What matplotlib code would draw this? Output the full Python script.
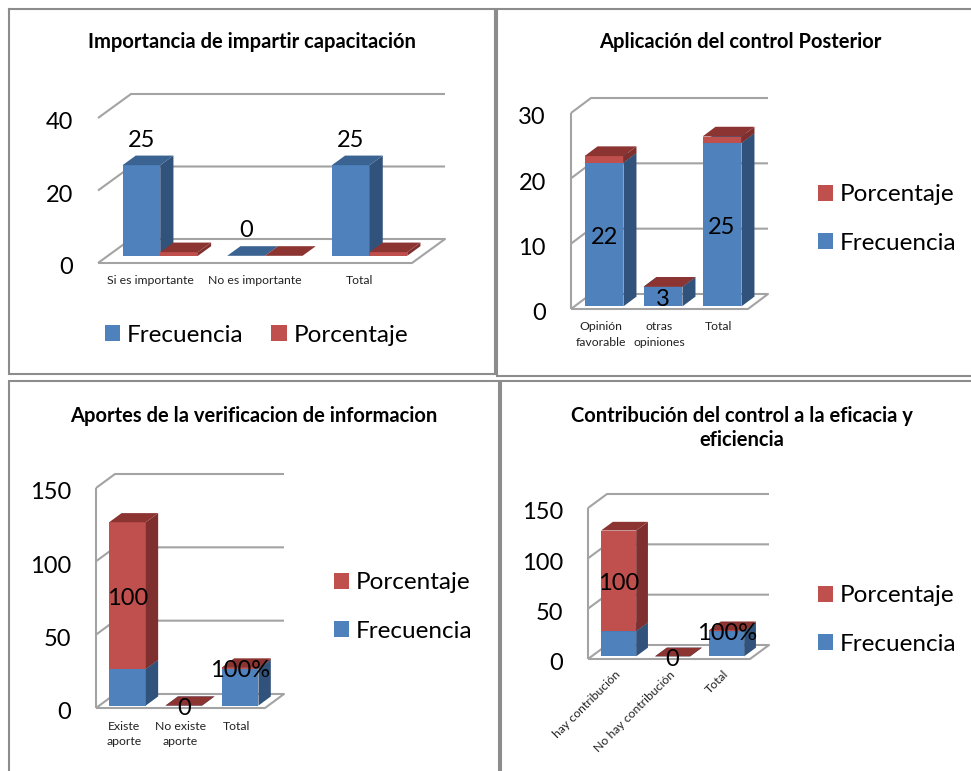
import matplotlib
matplotlib.use('Agg')
import matplotlib.pyplot as plt
from matplotlib.lines import Line2D
from matplotlib.patches import Patch
from matplotlib.transforms import ScaledTranslation

plt.rcParams['font.family'] = ['Lato', 'DejaVu Sans']

W, H = 971, 771

BLUE = ('#4F81BD', '#3A6391', '#31527A')  # front, top, side
RED = ('#C0504D', '#8C3432', '#7F302E')
GRID = '#A3A3A3'
FRAME = '#8C8C8C'

# Data
titles = ['Importancia de impartir capacitación',
          'Aplicación del control Posterior',
          'Aportes de la verificacion de informacion',
          'Contribución del control a la eficacia y\neficiencia']

cats_a = ['Si es importante', 'No es importante', 'Total']
frec_a = [25, 0, 25]
porc_a = [1, 0, 1]
labels_a = ['25', '0', '25']
yticks_a = [0, 20, 40]

cats_b = ['Opinión\nfavorable', 'otras\nopiniones', 'Total']
frec_b = [22, 3, 25]
porc_b = [1, 0, 1]
labels_b = ['22', '3', '25']
yticks_b = [0, 10, 20, 30]

cats_c = ['Existe\naporte', 'No existe\naporte', 'Total']
frec_c = [25, 0, 25]
porc_c = [100, 0, 1]
labels_c = ['100', '0', '100%']
yticks_c = [0, 50, 100, 150]

cats_d = ['hay contribución', 'No hay contribución', 'Total']
frec_d = [25, 0, 25]
porc_d = [100, 0, 1]
labels_d = ['100', '0', '100%']
yticks_d = [0, 50, 100, 150]


def make_axes(x0, x1, y_floor, y_top, ymax, depth_px):
    ax = fig.add_axes([x0 / W, 1 - y_floor / H, (x1 - x0) / W, (y_floor - y_top) / H])
    ax.set_xlim(0, 3)
    ax.set_ylim(0, ymax)
    ax.patch.set_alpha(0)
    for s in ax.spines.values():
        s.set_visible(False)
    # depth of the 3D box in data units
    ax.dx = depth_px[0] * 3 / (x1 - x0)
    ax.dy = depth_px[1] * ymax / (y_floor - y_top)
    return ax


def draw_walls(ax, yticks, left_line=True):
    dx, dy = ax.dx, ax.dy
    kw = dict(color=GRID, lw=1.5, clip_on=False, zorder=1, solid_capstyle='butt')
    for v in yticks[1:]:
        ax.plot([0, dx, 3 + dx], [v, v + dy, v + dy], **kw)
    ax.plot([0, 3, 3 + dx, dx, 0], [0, 0, dy, dy, 0], **kw)
    if left_line:
        ax.plot([0, 0], [0, yticks[-1]], **kw)
    ax.set_yticks(yticks)
    ax.tick_params(axis='y', length=0, pad=18, labelsize=17)
    # tick digits sit a little below the gridline
    shift = ScaledTranslation(0, -2 / 72, fig.dpi_scale_trans)
    for t in ax.get_yticklabels():
        t.set_transform(t.get_transform() + shift)


def draw_bar(ax, x, w, bottom, height, z, depth, colors):
    dx, dy = ax.dx, ax.dy
    left = x - w / 2 + z * dx
    right = left + w
    y0 = bottom + z * dy
    y1 = y0 + height
    ddx, ddy = depth * dx, depth * dy
    kw = dict(lw=0, clip_on=False, zorder=3)
    ax.bar(left, height, w, bottom=y0, align='edge', color=colors[0], **kw)
    ax.fill([right, right + ddx, right + ddx, right],
            [y0, y0 + ddy, y1 + ddy, y1], color=colors[2], **kw)
    ax.fill([left, right, right + ddx, left + ddx],
            [y1, y1, y1 + ddy, y1 + ddy], color=colors[1], **kw)


def set_cats(ax, cats, pad, size=8.8, rotation=0):
    ax.set_xticks([0.5, 1.5, 2.5])
    ax.set_xticklabels(cats, fontsize=size, linespacing=1.5, color='#222222')
    ax.tick_params(axis='x', length=0, pad=pad)
    if rotation:
        for t in ax.get_xticklabels():
            t.set_rotation(rotation)
            t.set_ha('right')
            t.set_rotation_mode('anchor')


def stacked(ax, frec, porc, labels, width, depth):
    z = (1 - depth) / 2
    for i in range(3):
        x = i + 0.5
        draw_bar(ax, x, width, 0, frec[i], z, depth, BLUE)
        draw_bar(ax, x, width, frec[i], porc[i], z, depth, RED)


def value_label(ax, x, y, text, up=-2):
    ax.annotate(text, (x, y), xytext=(0, up), textcoords='offset points', ha='center',
                va='center', fontsize=17, zorder=5, annotation_clip=False)


def legend(handles, x, y, ncol=1):
    fig.legend(handles=handles, loc='center left', bbox_to_anchor=(x / W, 1 - y / H),
               ncol=ncol, frameon=False, fontsize=17.5, handlelength=0.62, handleheight=0.62,
               handletextpad=0.28, labelspacing=1.12, columnspacing=1.15,
               borderpad=0, borderaxespad=0)


fig = plt.figure(figsize=(W / 100, H / 100), dpi=100)

# panel frames
for xs, ys in [([9, 9, 495, 495, 9], [9, 374, 374, 9, 9]),
               ([971, 497, 497, 971], [9, 9, 376, 376]),
               ([9, 9, 499, 499], [771, 381, 381, 771]),
               ([501, 501, 971], [771, 381, 381])]:
    fig.add_artist(Line2D([x / W for x in xs], [1 - y / H for y in ys],
                          color=FRAME, lw=1.5, solid_joinstyle='miter'))

for text, x, y in zip(titles, [252, 740, 254, 742], [42, 42, 416, 428]):
    fig.text(x / W, 1 - y / H, text, ha='center', va='center', fontsize=14.5,
             fontweight='bold', linespacing=1.3)

frec_patch = Patch(color=BLUE[0], lw=0, label='Frecuencia')
porc_patch = Patch(color=RED[0], lw=0, label='Porcentaje')

# Importancia de impartir capacitacion (clustered)
ax = make_axes(98, 412, 263, 118, 40, (33, 24))
draw_walls(ax, yticks_a, left_line=False)
bw, bd = 0.36, 0.4
bz = (1 - bd) / 2
for i in range(3):
    draw_bar(ax, i + 0.5 - bw / 2, bw, 0, frec_a[i], bz, bd, BLUE)
    draw_bar(ax, i + 0.5 + bw / 2, bw, 0, porc_a[i], bz, bd, RED)
    value_label(ax, i + 0.5 - bw / 2 + bz * ax.dx, frec_a[i] + bz * ax.dy, labels_a[i], up=18)
set_cats(ax, cats_a, 9)
legend([frec_patch, porc_patch], 105, 335, ncol=2)

# Aplicacion del control Posterior (stacked, label on Frecuencia)
ax = make_axes(571, 748, 309, 113, 30, (20, 15))
draw_walls(ax, yticks_b)
stacked(ax, frec_b, porc_b, labels_b, 0.66, 0.65)
for i in range(3):
    value_label(ax, i + 0.5 + 0.175 * ax.dx, frec_b[i] / 2 + 0.175 * ax.dy, labels_b[i])
set_cats(ax, cats_b, 9)
legend([porc_patch, frec_patch], 818, 219)

# Aportes de la verificacion de informacion (stacked, label on Porcentaje)
ax = make_axes(96, 265, 708, 488, 150, (19, 14))
draw_walls(ax, yticks_c)
stacked(ax, frec_c, porc_c, labels_c, 0.65, 0.65)
for i in range(3):
    value_label(ax, i + 0.5 + 0.175 * ax.dx, frec_c[i] + porc_c[i] / 2 + 0.175 * ax.dy, labels_c[i])
set_cats(ax, cats_c, 9)
legend([porc_patch, frec_patch], 334, 607)

# Contribucion del control (stacked, rotated categories)
ax = make_axes(588, 750, 659, 508, 150, (19, 14))
draw_walls(ax, yticks_d)
stacked(ax, frec_d, porc_d, labels_d, 0.65, 0.62)
for i in range(3):
    value_label(ax, i + 0.5 + 0.19 * ax.dx, frec_d[i] + porc_d[i] / 2 + 0.19 * ax.dy, labels_d[i])
set_cats(ax, cats_d, 7, rotation=45)
legend([porc_patch, frec_patch], 818, 620)

fig.savefig('out.png', dpi=100)
